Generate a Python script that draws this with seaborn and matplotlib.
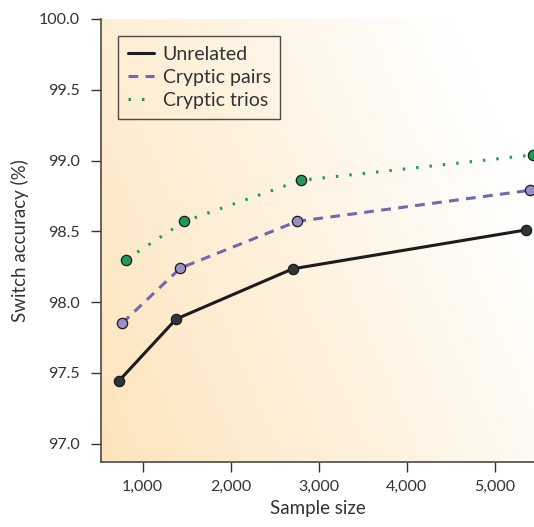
import numpy as np
import pandas as pd
import matplotlib
matplotlib.use("Agg")
import matplotlib.pyplot as plt
import seaborn as sns

# values
unrelated_n = [725, 1380, 2705, 5360]
unrelated_acc = [97.44, 97.88, 98.235, 98.51]
pairs_n = [765, 1428, 2753, 5405]
pairs_acc = [97.85, 98.24, 98.57, 98.79]
trios_n = [810, 1474, 2794, 5440]
trios_acc = [98.30, 98.57, 98.86, 99.04]

x_ticks = [1000, 2000, 3000, 4000, 5000]
y_ticks = [97.0, 97.5, 98.0, 98.5, 99.0, 99.5, 100.0]

series = [
    ("Unrelated", unrelated_n, unrelated_acc, "#1c1c1c", "#2d353b", (None, None)),
    ("Cryptic pairs", pairs_n, pairs_acc, "#7566ae", "#9a8ec6", (3.2, 2.4)),
    ("Cryptic trios", trios_n, trios_acc, "#1f9a5c", "#1e9a5a", (0.8, 3.6)),
]

sns.set_style("ticks")
plt.rcParams["font.family"] = ["Lato", "DejaVu Sans"]
text_col = "#333333"

fig = plt.figure(figsize=(5.34, 5.27), dpi=100)
ax = fig.add_axes([101 / 534, 1 - 462 / 527, 1 - 101 / 534, (462 - 19) / 527])

# diagonal gradient background: orange bottom-left to white top-right
gx, gy = np.meshgrid(np.linspace(0, 1, 300), np.linspace(0, 1, 300))
t = np.clip(0.8 * gx + 0.35 * gy, 0, 1)
c0 = np.array([253, 228, 188]) / 255
c1 = np.array([255, 255, 255]) / 255
img = c0[None, None, :] * (1 - t[..., None]) + c1[None, None, :] * t[..., None]
ax.imshow(img, extent=[0, 1, 0, 1], transform=ax.transAxes, origin="lower",
          aspect="auto", zorder=0)

for name, xs, ys, lc, mc, dash in series:
    df = pd.DataFrame({"n": xs, "acc": ys})
    sns.lineplot(data=df, x="n", y="acc", ax=ax, color=lc, lw=2.2,
                 label=name, zorder=2)
    l = ax.get_lines()[-1]
    if dash[0] is not None:
        l.set_dashes(dash)
        l.set_dash_capstyle("butt")
    sns.scatterplot(data=df, x="n", y="acc", ax=ax, color=mc, s=55,
                    edgecolor="#1a1a1a", linewidth=0.9, zorder=3, legend=False)

ax.set_xlim(526, 5447)
ax.set_ylim(96.87, 100.0)
ax.set_xticks(x_ticks)
ax.set_xticklabels([f"{v:,}" for v in x_ticks])
ax.set_yticks(y_ticks)
ax.set_yticklabels([f"{v:.1f}" for v in y_ticks])
ax.tick_params(axis="both", labelsize=11.5, colors=text_col, length=7,
               width=1.0, direction="out", pad=6)
ax.tick_params(axis="y", pad=8)
ax.set_xlabel("Sample size", fontsize=13.5, color=text_col, labelpad=4)
ax.set_ylabel("Switch accuracy (%)", fontsize=13.5, color=text_col, labelpad=7)

for side in ["top", "right"]:
    ax.spines[side].set_visible(False)
for side in ["left", "bottom"]:
    ax.spines[side].set_color("#4a4a4a")
    ax.spines[side].set_linewidth(1.2)

leg = ax.legend(loc="upper left", bbox_to_anchor=(0.039, 0.962), fontsize=14,
                frameon=True, fancybox=False, handlelength=1.35,
                handletextpad=0.45, borderpad=0.5, labelspacing=0.32,
                borderaxespad=0, labelcolor=text_col)
leg.get_frame().set_facecolor("none")
leg.get_frame().set_edgecolor("#222222")
leg.get_frame().set_linewidth(1.0)

fig.savefig("out.png", dpi=100)
